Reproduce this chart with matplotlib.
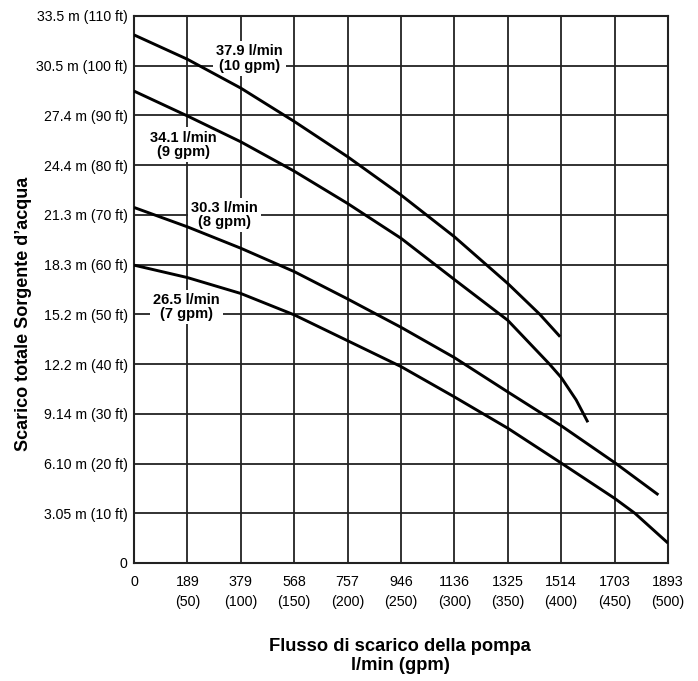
import matplotlib.pyplot as plt

plt.rcParams['font.family'] = ['Liberation Sans', 'DejaVu Sans']

# --- data (flow in gpm, head in ft) ---
x_ticks_gpm = [0, 50, 100, 150, 200, 250, 300, 350, 400, 450, 500]
x_tick_lpm = ["0", "189", "379", "568", "757", "946", "1136", "1325", "1514", "1703", "1893"]
y_ticks_ft = [0, 10, 20, 30, 40, 50, 60, 70, 80, 90, 100, 110]
y_tick_m = ["0", "3.05 m", "6.10 m", "9.14 m", "12.2 m", "15.2 m", "18.3 m",
            "21.3 m", "24.4 m", "27.4 m", "30.5 m", "33.5 m"]

# 37.9 l/min (10 gpm)
flow_10 = [0, 50, 100, 150, 200, 250, 300, 350, 380, 399]
head_10 = [106.2, 101.3, 95.5, 88.8, 81.7, 74.0, 65.6, 56.2, 50.0, 45.5]

# 34.1 l/min (9 gpm)
flow_9 = [0, 50, 100, 150, 200, 250, 300, 350, 389, 400, 414, 425]
head_9 = [94.9, 89.9, 84.7, 78.8, 72.3, 65.3, 57.0, 48.8, 40.0, 37.3, 32.8, 28.3]

# 30.3 l/min (8 gpm)
flow_8 = [0, 50, 100, 150, 200, 250, 300, 350, 400, 450, 491]
head_8 = [71.5, 67.6, 63.3, 58.6, 53.1, 47.4, 41.3, 34.4, 27.6, 20.2, 13.7]

# 26.5 l/min (7 gpm)
flow_7 = [0, 50, 100, 150, 200, 250, 300, 350, 400, 450, 469, 500]
head_7 = [59.9, 57.4, 54.2, 49.9, 44.7, 39.5, 33.4, 27.1, 20.1, 13.0, 10.0, 4.0]

curve_labels = ["37.9 l/min\n(10 gpm)", "34.1 l/min\n(9 gpm)",
                "30.3 l/min\n(8 gpm)", "26.5 l/min\n(7 gpm)"]
label_pos = [(108, 101.4), (46, 84.1), (85, 70.0), (49, 51.5)]

fig = plt.figure(figsize=(6.98, 6.81), dpi=100)
ax = fig.add_axes([134 / 698, 1 - 563 / 681, 534 / 698, 547 / 681])

ax.set_xlim(0, 500)
ax.set_ylim(0, 110)
ax.set_xticks(x_ticks_gpm)
ax.set_xticklabels([lp if g == 0 else f"{lp}\n({g})" for g, lp in zip(x_ticks_gpm, x_tick_lpm)],
                   fontsize=10.3, linespacing=1.5, va='top')
ax.set_yticks(y_ticks_ft)
ax.set_yticklabels([m if f == 0 else f"{m} ({f} ft)" for f, m in zip(y_ticks_ft, y_tick_m)],
                   fontsize=10.2)
ax.tick_params(length=0)
ax.tick_params(axis='y', pad=4.5)
ax.tick_params(axis='x', pad=9)
ax.grid(True, color='#222222', linewidth=1.3)
ax.set_axisbelow(True)
for s in ax.spines.values():
    s.set_linewidth(1.5)
    s.set_color('#222222')

for xs, ys in [(flow_10, head_10), (flow_9, head_9), (flow_8, head_8), (flow_7, head_7)]:
    ax.plot(xs, ys, color='black', linewidth=2.1, solid_capstyle='butt',
            solid_joinstyle='round', zorder=3)

for txt, (lx, ly) in zip(curve_labels, label_pos):
    ax.text(lx, ly, txt, ha='center', va='center', fontsize=10.5, fontweight='bold',
            linespacing=1.05, zorder=2.5,
            bbox=dict(facecolor='white', edgecolor='none', pad=2.2))

fig.text(24 / 698, 1 - 314 / 681, "Scarico totale Sorgente d\u2019acqua", rotation=90,
         ha='center', va='center', fontsize=13, fontweight='bold')
fig.text(400 / 698, 1 - 656 / 681, "Flusso di scarico della pompa\nl/min (gpm)",
         ha='center', va='center', fontsize=13.2, fontweight='bold', linespacing=1.2)

fig.savefig("out.png", dpi=100)
